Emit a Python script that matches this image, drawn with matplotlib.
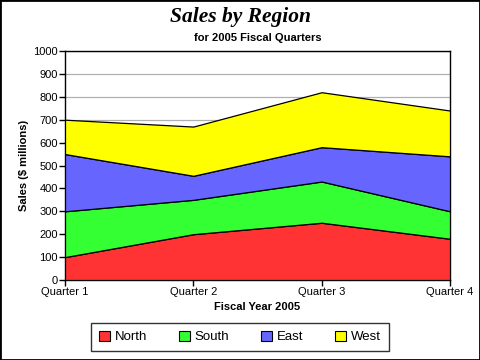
import numpy as np
import matplotlib.pyplot as plt
from matplotlib.patches import Rectangle

quarters = ["Quarter 1", "Quarter 2", "Quarter 3", "Quarter 4"]
regions = ["North", "South", "East", "West"]
north = [100, 200, 250, 180]
south = [200, 150, 180, 120]
east = [250, 105, 150, 240]
west = [150, 215, 240, 200]
colors = ["#ff3333", "#33ff33", "#6666ff", "#ffff00"]

plt.rcParams['font.family'] = ['Liberation Sans', 'DejaVu Sans']

fig = plt.figure(figsize=(4.8, 3.6), dpi=100)
ax = fig.add_axes([65 / 480, 80 / 360, 385 / 480, 229 / 360])

x = np.arange(len(quarters))
ax.stackplot(x, north, south, east, west, colors=colors, labels=regions,
             edgecolor="black", linewidth=0.9, zorder=3)

ax.set_xlim(0, 3)
ax.set_ylim(0, 1000)
ax.set_xticks(x)
ax.set_xticklabels(quarters)
ax.set_yticks(np.arange(0, 1001, 100))
ax.tick_params(labelsize=8, length=4, width=1, direction="out", pad=1)
ax.yaxis.grid(True, color="#b0b0b0", linewidth=0.9, zorder=1)
for s in ax.spines.values():
    s.set_linewidth(1)

ax.set_xlabel("Fiscal Year 2005", fontsize=8, fontweight="bold", labelpad=4)
ax.set_ylabel("Sales ($ millions)", fontsize=8, fontweight="bold", labelpad=3)

fig.text(0.5, 0.953, "Sales by Region", ha="center", va="center",
         family=["Liberation Serif", "DejaVu Serif"], fontsize=15.5,
         fontweight="bold", style="italic")
ax.text(0.5, 1.055, "for 2005 Fiscal Quarters", transform=ax.transAxes,
        ha="center", va="center", fontsize=8, fontweight="bold")

leg = fig.legend(loc="center", bbox_to_anchor=(0.5, 0.064), ncol=4,
                 fontsize=9.5, frameon=True, fancybox=False, edgecolor="black",
                 handlelength=0.8, handleheight=0.8, handletextpad=0.4,
                 columnspacing=2.4, borderpad=0.6)
leg.get_frame().set_linewidth(1)
for h in leg.legend_handles:
    h.set_edgecolor("black")
    h.set_linewidth(0.8)

fig.patches.append(Rectangle((0, 0), 1, 1, transform=fig.transFigure,
                             fill=False, edgecolor="black", linewidth=2))

fig.savefig("out.png", dpi=100)
plt.close()
